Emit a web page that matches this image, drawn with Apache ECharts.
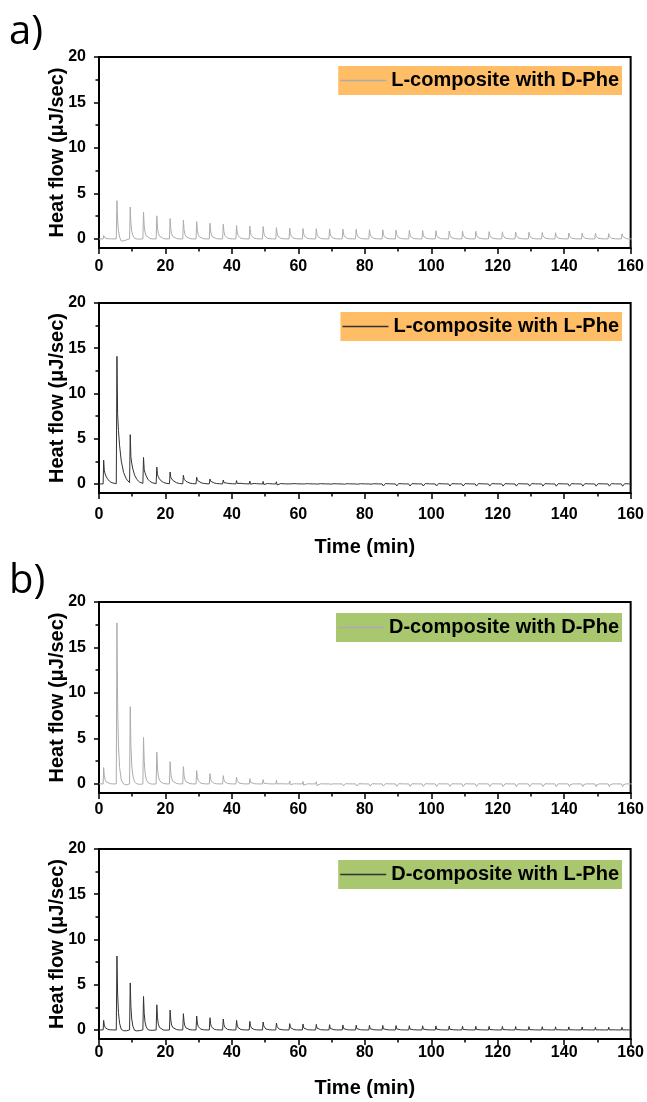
<!DOCTYPE html>
<html>
<head>
<meta charset="utf-8">
<script src="https://cdn.jsdelivr.net/npm/echarts@6/dist/echarts.min.js"></script>
<style>html,body{margin:0;padding:0;background:#fff}#c{width:647px;height:1102px}</style>
</head>
<body>
<div id="c"></div>
<script>
// ---- data ----
const injTimes = [1.4,5.4,9.4,13.4,17.4,21.4,25.4,29.4,33.4,37.4,41.4,45.4,49.4,53.4,57.4,61.4,65.4,69.4,73.4,77.4,
  81.4,85.4,89.4,93.4,97.4,101.4,105.4,109.4,113.4,117.4,121.4,125.4,129.4,133.4,137.4,141.4,145.4,149.4,153.4,157.4];

// peak heights (µJ/sec) per injection
const peaksLD = [0.37,4.2,3.5,2.94,2.54,2.24,2.06,1.9,1.72,1.61,1.47,1.4,1.36,1.24,1.18,1.14,1.12,1.1,1.08,1.05,
  1.02,1.0,0.97,0.95,0.92,0.9,0.87,0.85,0.83,0.8,0.78,0.75,0.73,0.7,0.68,0.65,0.62,0.6,0.58,0.55];
const peaksLL = [2.64,14.1,5.45,2.93,1.87,1.32,0.96,0.74,0.55,0.44,0.37,0.32,0.28,0.25,0.22,0.2,0.18,0.17,0.16,0.15,
  0.15,0.14,0.14,0.13,0.13,0.13,0.12,0.12,0.12,0.12,0.11,0.11,0.11,0.11,0.1,0.1,0.1,0.1,0.1,0.1];
const peaksDD = [1.8,17.7,8.5,5.1,3.5,2.45,1.9,1.46,1.13,0.91,0.73,0.58,0.48,0.4,0.33,0.27,0.23,0.21,0.2,0.19,
  0.18,0.17,0.16,0.15,0.15,0.14,0.14,0.13,0.13,0.12,0.12,0.12,0.11,0.11,0.11,0.1,0.1,0.1,0.1,0.1];
const peaksDL = [1.06,8.17,5.2,3.7,2.78,2.2,1.8,1.54,1.35,1.21,1.06,0.95,0.88,0.77,0.7,0.66,0.62,0.58,0.55,0.53,
  0.52,0.5,0.49,0.47,0.46,0.45,0.44,0.42,0.41,0.4,0.39,0.38,0.37,0.36,0.35,0.34,0.33,0.32,0.31,0.3];

// short negative notch right after each injection
const notchLD = [0,0,0,0,0,0,0,0,0,0,0,0,0,0,0,0,0,0,0,0, 0,0,0,0,0,0,0,0,0,0,0,0,0,0,0,0,0,0,0,0];
const notchLL = [0,0,0,0,0,0,0,0,0,-0.1,-0.15,-0.2,-0.22,-0.25,-0.27,-0.28,-0.3,-0.3,-0.3,-0.3,
  -0.3,-0.3,-0.3,-0.3,-0.3,-0.3,-0.3,-0.3,-0.3,-0.3,-0.3,-0.3,-0.3,-0.3,-0.3,-0.3,-0.3,-0.3,-0.3,-0.3];
const notchDD = [0,0,0,0,0,0,0,0,0,0,0,-0.1,-0.15,-0.2,-0.25,-0.28,-0.3,-0.3,-0.32,-0.32,
  -0.33,-0.33,-0.34,-0.34,-0.35,-0.35,-0.35,-0.35,-0.35,-0.35,-0.35,-0.35,-0.35,-0.35,-0.35,-0.35,-0.35,-0.35,-0.35,-0.35];
const notchDL = [0,0,0,0,0,0,0,0,0,0,0,0,0,0,-0.08,-0.1,-0.1,-0.12,-0.12,-0.12,
  -0.13,-0.13,-0.13,-0.14,-0.14,-0.14,-0.15,-0.15,-0.15,-0.15,-0.15,-0.15,-0.15,-0.15,-0.15,-0.15,-0.15,-0.15,-0.15,-0.15];

// slower undershoot after the large injections
const underLD = [0,-0.45,-0.1,0,0,0,0,0,0,0,0,0,0,0,0,0,0,0,0,0, 0,0,0,0,0,0,0,0,0,0,0,0,0,0,0,0,0,0,0,0];
const underLL = [0,0,0,0,0,0,0,0,0,0,0,0,0,0,0,0,0,0,0,0, 0,0,0,0,0,0,0,0,0,0,0,0,0,0,0,0,0,0,0,0];
const underDD = [0,-0.45,-0.2,-0.1,0,0,0,0,0,0,0,0,0,0,0,0,0,0,0,0, 0,0,0,0,0,0,0,0,0,0,0,0,0,0,0,0,0,0,0,0];
const underDL = [0,-0.35,-0.3,-0.15,-0.08,0,0,0,0,0,0,0,0,0,0,0,0,0,0,0, 0,0,0,0,0,0,0,0,0,0,0,0,0,0,0,0,0,0,0,0];

// pulse outline (time offset in min, relative weight)
const pulseDt    = [-0.15, 0, 0.2, 0.45, 0.8, 1.3, 2.0, 2.8, 3.8];
const fastShape  = [0, 1, 0.5, 0.25, 0.12, 0.05, 0.015, 0, 0];
const slowShape  = [0, 1, 0.55, 0.42, 0.3, 0.18, 0.09, 0.04, 0.01];
const notchShape = [0, 0, 1, 0.3, 0, 0, 0, 0, 0];
const underShape = [0, 0, 0, 0.3, 0.7, 1, 0.6, 0.25, 0];

const yTicks = [0, 5, 10, 15, 20];
const yMinorTicks = [2.5, 7.5, 12.5, 17.5];

const names = ['L-composite with D-Phe','L-composite with L-Phe','D-composite with D-Phe','D-composite with L-Phe'];
// ---------------------------------------

function buildLine(peaks, notches, unders, shape) {
  const pts = [[0, 0]];
  injTimes.forEach((t0, i) => {
    pulseDt.forEach((dt, k) => {
      const v = peaks[i] * shape[k] + notches[i] * notchShape[k] + unders[i] * underShape[k];
      pts.push([+(t0 + dt).toFixed(3), +v.toFixed(4)]);
    });
  });
  return pts;
}

const lines = [
  buildLine(peaksLD, notchLD, underLD, fastShape),
  buildLine(peaksLL, notchLL, underLL, slowShape),
  buildLine(peaksDD, notchDD, underDD, fastShape),
  buildLine(peaksDL, notchDL, underDL, fastShape)
];
const lineColors = ['#acacac', '#333333', '#acacac', '#333333'];
const legendBg = ['#FFBE66', '#FFBE66', '#A9C76E', '#A9C76E'];

const FF = '"Liberation Sans", Arial, sans-serif';
const grids = [
  {left: 99, right: 15, top: 57, height: 191},
  {left: 99, right: 15, top: 303, height: 190},
  {left: 99, right: 15, top: 602, height: 191},
  {left: 99, right: 15, top: 849, height: 190}
];
const xLabelMargin = [11, 14, 9, 6];
const xNameGap = [0, 44, 0, 39];
const legendTop = [66, 312, 613, 860];

const option = {
  animation: false,
  backgroundColor: '#fff',
  grid: grids.map(g => Object.assign({show: true, borderColor: '#000', borderWidth: 2, backgroundColor: 'transparent'}, g)),
  xAxis: grids.map((g, i) => ({
    type: 'value', gridIndex: i, min: 0, max: 160, interval: 20,
    name: (i === 1 || i === 3) ? 'Time (min)' : '',
    nameLocation: 'middle', nameGap: xNameGap[i], nameMoveOverlap: false,
    nameTextStyle: {fontFamily: FF, fontWeight: 'bold', fontSize: 20, color: '#000'},
    axisLine: {show: true, onZero: false, lineStyle: {color: '#000', width: 2}},
    axisTick: {show: true, length: 6, lineStyle: {color: '#000', width: 1.5}},
    minorTick: {show: true, splitNumber: 2, length: 3.5, lineStyle: {color: '#000', width: 1.5}},
    axisLabel: {fontFamily: FF, fontWeight: 'bold', fontSize: 16, color: '#000', margin: xLabelMargin[i]},
    splitLine: {show: false}, minorSplitLine: {show: false}
  })),
  yAxis: [],
  legend: [],
  series: [],
  graphic: [
    {type: 'text', left: 9, top: 13, style: {text: 'a)', font: '40px "Open Sans", sans-serif', fill: '#000'}},
    {type: 'text', left: 9, top: 562, style: {text: 'b)', font: '40px "Open Sans", sans-serif', fill: '#000'}}
  ]
};

grids.forEach((g, i) => {
  option.yAxis.push({
    type: 'value', gridIndex: i, min: -1, max: 20,
    name: 'Heat flow (μJ/sec)', nameLocation: 'middle', nameGap: 32, nameMoveOverlap: false,
    nameTextStyle: {fontFamily: FF, fontWeight: 'bold', fontSize: 20, color: '#000'},
    axisLine: {show: true, lineStyle: {color: '#000', width: 2}},
    axisTick: {show: true, length: 5, customValues: yTicks, lineStyle: {color: '#000', width: 1.5}},
    axisLabel: {fontFamily: FF, fontWeight: 'bold', fontSize: 16, color: '#000', margin: 13, customValues: yTicks},
    splitLine: {show: false}
  });
  option.yAxis.push({
    type: 'value', gridIndex: i, min: -1, max: 20, position: 'left',
    axisLine: {show: false},
    axisTick: {show: true, length: 3.5, customValues: yMinorTicks, lineStyle: {color: '#000', width: 1.5}},
    axisLabel: {show: false, customValues: yMinorTicks},
    splitLine: {show: false}
  });
  option.series.push({
    name: names[i], type: 'line', xAxisIndex: i, yAxisIndex: 2 * i,
    data: lines[i], symbol: 'none', showSymbol: false,
    lineStyle: {color: lineColors[i], width: 1}, itemStyle: {color: lineColors[i]},
    z: 3
  });
  option.legend.push({
    data: [names[i]], right: 25, top: legendTop[i],
    backgroundColor: legendBg[i], padding: [4, 3, 4, 2],
    icon: 'rect', itemWidth: 46, itemHeight: 1.5, itemGap: 0,
    textStyle: {fontFamily: FF, fontWeight: 'bold', fontSize: 20, color: '#000', lineHeight: 21},
    selectedMode: false
  });
});

const chart = echarts.init(document.getElementById('c'), null, {renderer: 'canvas'});
chart.setOption(option);
</script>
</body>
</html>
